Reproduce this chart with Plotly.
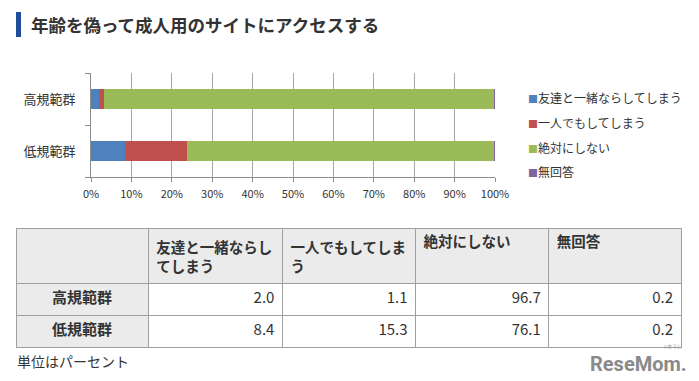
import plotly.graph_objects as go

W, H = 699, 381

categories = ['高規範群', '低規範群']
series_names = ['友達と一緒ならしてしまう', '一人でもしてしまう', '絶対にしない', '無回答']
header_labels = ['友達と一緒ならし<br>てしまう', '一人でもしてしま<br>う', '絶対にしない', '無回答']
together = [2.0, 8.4]
alone = [1.1, 15.3]
never = [96.7, 76.1]
no_answer = [0.2, 0.2]
x_ticks = [0, 10, 20, 30, 40, 50, 60, 70, 80, 90, 100]
x_tick_labels = ['0%', '10%', '20%', '30%', '40%', '50%', '60%', '70%', '80%', '90%', '100%']
colors = ['#4F81BD', '#C0504D', '#9BBB59', '#8064A2']

FONT = 'Noto Sans CJK JP, Meiryo, sans-serif'


def px(x):
    return x / W


def py(y):
    return 1 - y / H


series = [together, alone, never, no_answer]

fig = go.Figure()
for name, vals, col in zip(series_names, series, colors):
    fig.add_trace(go.Bar(
        y=categories, x=vals, name=name, orientation='h',
        marker=dict(color=col, line=dict(width=0)),
        showlegend=False, hoverinfo='x+name',
    ))

# table
cells_vals = [list(categories)]
for vals in series:
    cells_vals.append(['%.1f' % v for v in vals])

fig.add_trace(go.Table(
    domain=dict(x=[px(16), px(681)], y=[py(348), py(228)]),
    columnwidth=[132, 134, 133, 133, 132],
    header=dict(
        values=[''] + header_labels,
        fill_color='#ebebeb',
        line=dict(color='#a0a0a0', width=1),
        align='left',
        height=55,
        font=dict(family=FONT, size=14.5, color='#333333', weight='bold'),
    ),
    cells=dict(
        values=cells_vals,
        fill_color=[['#ebebeb'] * 2] + [['white'] * 2] * 4,
        line=dict(color='#a0a0a0', width=1),
        align=['center', 'right', 'right', 'right', 'right'],
        height=32,
        font=dict(family=FONT, size=15, color='#333333',
                  weight=['bold', 'normal', 'normal', 'normal', 'normal']),
    ),
))

annotations = []
# title
annotations.append(dict(
    text='<b>年齢を偽って成人用のサイトにアクセスする</b>',
    x=px(29), y=py(25), xref='paper', yref='paper',
    xanchor='left', yanchor='middle', showarrow=False,
    font=dict(family=FONT, size=17.5, color='#333333'),
))
# legend (manual)
leg_y = [97, 122, 147, 171]
for name, col, yy in zip(series_names, colors, leg_y):
    annotations.append(dict(
        text='<span style="color:%s;font-size:10px">■</span>%s' % (col, name),
        x=px(526), y=py(yy), xref='paper', yref='paper',
        xanchor='left', yanchor='middle', showarrow=False,
        font=dict(family=FONT, size=12, color='#333333'),
    ))
# footnote
annotations.append(dict(
    text='単位はパーセント',
    x=px(15), y=py(361), xref='paper', yref='paper',
    xanchor='left', yanchor='middle', showarrow=False,
    font=dict(family=FONT, size=14, color='#333333'),
))
# logo
annotations.append(dict(
    text='<b>ReseMom.</b>',
    x=px(689), y=py(364), xref='paper', yref='paper',
    xanchor='right', yanchor='middle', showarrow=False,
    font=dict(family='Liberation Sans Narrow, Roboto, sans-serif', size=20, color='#8a8a8a'),
))
annotations.append(dict(
    text='リセマム',
    x=px(672), y=py(346), xref='paper', yref='paper',
    xanchor='center', yanchor='middle', showarrow=False,
    font=dict(family=FONT, size=4.5, color='#8a8a8a'),
))

fig.update_layout(
    width=W, height=H,
    margin=dict(l=0, r=0, t=0, b=0, autoexpand=False),
    paper_bgcolor='white', plot_bgcolor='white',
    barmode='stack', bargap=0.6,
    font=dict(family=FONT, color='#333333'),
    annotations=annotations,
    shapes=[dict(type='rect', xref='paper', yref='paper',
                 x0=px(16), x1=px(21), y0=py(37), y1=py(12),
                 fillcolor='#1f4e9c', line=dict(width=0))],
    xaxis=dict(
        domain=[px(91), px(495)],
        range=[0, 100], tickvals=x_ticks, ticktext=x_tick_labels,
        showgrid=True, gridcolor='#a6a6a6', gridwidth=1,
        showline=True, linecolor='#8c8c8c', linewidth=1,
        ticks='outside', ticklen=4, tickcolor='#8c8c8c',
        ticklabelstandoff=3,
        tickfont=dict(family=FONT, size=11, color='#333333'),
        zeroline=False, fixedrange=True, automargin=False,
    ),
    yaxis=dict(
        domain=[py(177), py(73)],
        categoryorder='array', categoryarray=categories[::-1],
        range=[-0.5, 1.5],
        showline=True, linecolor='#8c8c8c', linewidth=1,
        ticks='outside', ticklen=5, tickcolor='#8c8c8c',
        tickson='boundaries', ticklabelstandoff=12,
        tickfont=dict(family=FONT, size=13, color='#333333'),
        showgrid=False, zeroline=False, fixedrange=True, automargin=False,
    ),
)

fig.write_html('out.html', config=dict(displayModeBar=False),
               post_script="document.body.style.margin='0';")
